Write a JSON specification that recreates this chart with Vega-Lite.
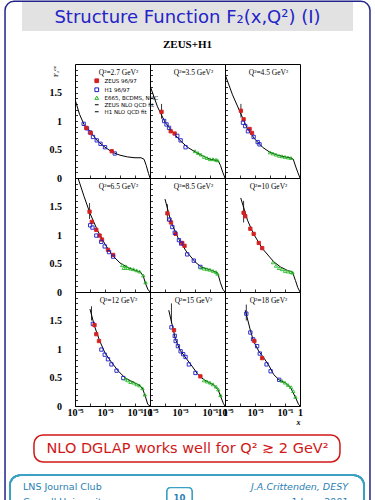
{
  "$schema": "https://vega.github.io/schema/vega-lite/v6.json",
  "background": "white",
  "padding": {"left": 4, "top": 0, "right": 0, "bottom": 0},
  "spacing": 0,
  "columns": 3,
  "bounds": "flush",
  "config": {
    "font": "Liberation Serif",
    "view": {"stroke": "black", "strokeWidth": 1},
    "axis": {"grid": false, "domain": false, "labelFont": "Liberation Serif", "labelColor": "black", "labelFontSize": 10, "labelFontWeight": "bold"},
    "title": {"font": "Liberation Serif", "fontSize": 7.5, "fontWeight": "normal", "color": "black", "anchor": "middle", "offset": -12, "dx": 6}
  },
  "datasets": {
    "d": [
      {"q": 2.7, "s": "fit", "x": 1e-5, "F2": 1.38},
      {"q": 2.7, "s": "fit", "x": 1.995e-5, "F2": 1.12},
      {"q": 2.7, "s": "fit", "x": 3.98e-5, "F2": 0.94},
      {"q": 2.7, "s": "fit", "x": 1e-4, "F2": 0.82},
      {"q": 2.7, "s": "fit", "x": 3.16e-4, "F2": 0.65},
      {"q": 2.7, "s": "fit", "x": 1e-3, "F2": 0.54},
      {"q": 2.7, "s": "fit", "x": 3.16e-3, "F2": 0.45},
      {"q": 2.7, "s": "fit", "x": 0.01, "F2": 0.40},
      {"q": 2.7, "s": "fit", "x": 0.0316, "F2": 0.37},
      {"q": 2.7, "s": "fit", "x": 0.1, "F2": 0.355},
      {"q": 2.7, "s": "fit", "x": 0.251, "F2": 0.355},
      {"q": 2.7, "s": "fit", "x": 0.398, "F2": 0.33},
      {"q": 2.7, "s": "fit", "x": 0.562, "F2": 0.22},
      {"q": 2.7, "s": "fit", "x": 0.794, "F2": 0.08},
      {"q": 2.7, "s": "fit", "x": 1, "F2": 0},

      {"q": 3.5, "s": "fit", "x": 1e-5, "F2": 1.62},
      {"q": 3.5, "s": "fit", "x": 3.162e-5, "F2": 1.25},
      {"q": 3.5, "s": "fit", "x": 1e-4, "F2": 0.98},
      {"q": 3.5, "s": "fit", "x": 3.16e-4, "F2": 0.81},
      {"q": 3.5, "s": "fit", "x": 1e-3, "F2": 0.66},
      {"q": 3.5, "s": "fit", "x": 3.16e-3, "F2": 0.54},
      {"q": 3.5, "s": "fit", "x": 0.01, "F2": 0.46},
      {"q": 3.5, "s": "fit", "x": 0.0316, "F2": 0.39},
      {"q": 3.5, "s": "fit", "x": 0.1, "F2": 0.33},
      {"q": 3.5, "s": "fit", "x": 0.251, "F2": 0.31},
      {"q": 3.5, "s": "fit", "x": 0.355, "F2": 0.30},
      {"q": 3.5, "s": "fit", "x": 0.501, "F2": 0.22},
      {"q": 3.5, "s": "fit", "x": 0.708, "F2": 0.10},
      {"q": 3.5, "s": "fit", "x": 1, "F2": 0},

      {"q": 4.5, "s": "fit", "x": 1e-5, "F2": 1.82},
      {"q": 4.5, "s": "fit", "x": 3.162e-5, "F2": 1.46},
      {"q": 4.5, "s": "fit", "x": 1e-4, "F2": 1.16},
      {"q": 4.5, "s": "fit", "x": 3.16e-4, "F2": 0.86},
      {"q": 4.5, "s": "fit", "x": 1e-3, "F2": 0.68},
      {"q": 4.5, "s": "fit", "x": 3.16e-3, "F2": 0.54},
      {"q": 4.5, "s": "fit", "x": 0.01, "F2": 0.45},
      {"q": 4.5, "s": "fit", "x": 0.0316, "F2": 0.40},
      {"q": 4.5, "s": "fit", "x": 0.1, "F2": 0.37},
      {"q": 4.5, "s": "fit", "x": 0.251, "F2": 0.35},
      {"q": 4.5, "s": "fit", "x": 0.355, "F2": 0.33},
      {"q": 4.5, "s": "fit", "x": 0.501, "F2": 0.21},
      {"q": 4.5, "s": "fit", "x": 0.708, "F2": 0.10},
      {"q": 4.5, "s": "fit", "x": 1, "F2": 0},

      {"q": 6.5, "s": "fit", "x": 1.585e-5, "F2": 2.0},
      {"q": 6.5, "s": "fit", "x": 3.98e-5, "F2": 1.68},
      {"q": 6.5, "s": "fit", "x": 1e-4, "F2": 1.38},
      {"q": 6.5, "s": "fit", "x": 3.16e-4, "F2": 1.08},
      {"q": 6.5, "s": "fit", "x": 1e-3, "F2": 0.84},
      {"q": 6.5, "s": "fit", "x": 3.16e-3, "F2": 0.64},
      {"q": 6.5, "s": "fit", "x": 0.01, "F2": 0.51},
      {"q": 6.5, "s": "fit", "x": 0.0316, "F2": 0.43},
      {"q": 6.5, "s": "fit", "x": 0.1, "F2": 0.38},
      {"q": 6.5, "s": "fit", "x": 0.224, "F2": 0.35},
      {"q": 6.5, "s": "fit", "x": 0.355, "F2": 0.28},
      {"q": 6.5, "s": "fit", "x": 0.501, "F2": 0.15},
      {"q": 6.5, "s": "fit", "x": 0.708, "F2": 0.05},
      {"q": 6.5, "s": "fit", "x": 1, "F2": 0},

      {"q": 8.5, "s": "fit", "x": 1e-4, "F2": 1.63},
      {"q": 8.5, "s": "fit", "x": 2.51e-4, "F2": 1.23},
      {"q": 8.5, "s": "fit", "x": 7.08e-4, "F2": 0.96},
      {"q": 8.5, "s": "fit", "x": 2.51e-3, "F2": 0.72},
      {"q": 8.5, "s": "fit", "x": 0.01, "F2": 0.53},
      {"q": 8.5, "s": "fit", "x": 0.0251, "F2": 0.44},
      {"q": 8.5, "s": "fit", "x": 0.1, "F2": 0.39},
      {"q": 8.5, "s": "fit", "x": 0.251, "F2": 0.35},
      {"q": 8.5, "s": "fit", "x": 0.355, "F2": 0.30},
      {"q": 8.5, "s": "fit", "x": 0.501, "F2": 0.16},
      {"q": 8.5, "s": "fit", "x": 0.708, "F2": 0.05},
      {"q": 8.5, "s": "fit", "x": 1, "F2": 0},

      {"q": 10, "s": "fit", "x": 1.12e-4, "F2": 1.65},
      {"q": 10, "s": "fit", "x": 3.16e-4, "F2": 1.26},
      {"q": 10, "s": "fit", "x": 7.94e-4, "F2": 1.02},
      {"q": 10, "s": "fit", "x": 3.16e-3, "F2": 0.76},
      {"q": 10, "s": "fit", "x": 0.0178, "F2": 0.53},
      {"q": 10, "s": "fit", "x": 0.0501, "F2": 0.44},
      {"q": 10, "s": "fit", "x": 0.141, "F2": 0.38},
      {"q": 10, "s": "fit", "x": 0.316, "F2": 0.35},
      {"q": 10, "s": "fit", "x": 0.501, "F2": 0.20},
      {"q": 10, "s": "fit", "x": 0.708, "F2": 0.08},
      {"q": 10, "s": "fit", "x": 1, "F2": 0},

      {"q": 12, "s": "fit", "x": 1e-4, "F2": 1.70},
      {"q": 12, "s": "fit", "x": 2e-4, "F2": 1.40},
      {"q": 12, "s": "fit", "x": 4.47e-4, "F2": 1.14},
      {"q": 12, "s": "fit", "x": 1e-3, "F2": 0.93},
      {"q": 12, "s": "fit", "x": 2.82e-3, "F2": 0.76},
      {"q": 12, "s": "fit", "x": 7.94e-3, "F2": 0.61},
      {"q": 12, "s": "fit", "x": 0.0224, "F2": 0.49},
      {"q": 12, "s": "fit", "x": 0.0631, "F2": 0.43},
      {"q": 12, "s": "fit", "x": 0.178, "F2": 0.37},
      {"q": 12, "s": "fit", "x": 0.316, "F2": 0.31},
      {"q": 12, "s": "fit", "x": 0.501, "F2": 0.16},
      {"q": 12, "s": "fit", "x": 0.708, "F2": 0.03},
      {"q": 12, "s": "fit", "x": 1, "F2": 0},

      {"q": 15, "s": "fit", "x": 1.78e-4, "F2": 1.68},
      {"q": 15, "s": "fit", "x": 3.16e-4, "F2": 1.40},
      {"q": 15, "s": "fit", "x": 5.01e-4, "F2": 1.17},
      {"q": 15, "s": "fit", "x": 1e-3, "F2": 0.98},
      {"q": 15, "s": "fit", "x": 2.51e-3, "F2": 0.84},
      {"q": 15, "s": "fit", "x": 6.31e-3, "F2": 0.70},
      {"q": 15, "s": "fit", "x": 0.0141, "F2": 0.57},
      {"q": 15, "s": "fit", "x": 0.0282, "F2": 0.49},
      {"q": 15, "s": "fit", "x": 0.0631, "F2": 0.43},
      {"q": 15, "s": "fit", "x": 0.178, "F2": 0.37},
      {"q": 15, "s": "fit", "x": 0.355, "F2": 0.28},
      {"q": 15, "s": "fit", "x": 0.562, "F2": 0.14},
      {"q": 15, "s": "fit", "x": 0.794, "F2": 0.04},
      {"q": 15, "s": "fit", "x": 1, "F2": 0},

      {"q": 18, "s": "fit", "x": 2.24e-4, "F2": 1.68},
      {"q": 18, "s": "fit", "x": 5.01e-4, "F2": 1.32},
      {"q": 18, "s": "fit", "x": 7.94e-4, "F2": 1.14},
      {"q": 18, "s": "fit", "x": 1.78e-3, "F2": 0.96},
      {"q": 18, "s": "fit", "x": 3.98e-3, "F2": 0.84},
      {"q": 18, "s": "fit", "x": 8.91e-3, "F2": 0.70},
      {"q": 18, "s": "fit", "x": 0.0178, "F2": 0.55},
      {"q": 18, "s": "fit", "x": 0.0398, "F2": 0.46},
      {"q": 18, "s": "fit", "x": 0.112, "F2": 0.40},
      {"q": 18, "s": "fit", "x": 0.251, "F2": 0.31},
      {"q": 18, "s": "fit", "x": 0.501, "F2": 0.15},
      {"q": 18, "s": "fit", "x": 0.794, "F2": 0.03},
      {"q": 18, "s": "fit", "x": 1, "F2": 0},

      {"q": 2.7, "s": "H", "x": 3.80e-5, "F2": 0.95},
      {"q": 2.7, "s": "H", "x": 6.31e-5, "F2": 0.87},
      {"q": 2.7, "s": "H", "x": 1e-4, "F2": 0.80},
      {"q": 2.7, "s": "H", "x": 1.58e-4, "F2": 0.72},
      {"q": 2.7, "s": "H", "x": 2.82e-4, "F2": 0.66},
      {"q": 2.7, "s": "H", "x": 5.01e-4, "F2": 0.60},
      {"q": 2.7, "s": "H", "x": 1e-3, "F2": 0.54},
      {"q": 2.7, "s": "H", "x": 4.47e-3, "F2": 0.43},
      {"q": 2.7, "s": "Z", "x": 5.62e-5, "F2": 0.88},
      {"q": 2.7, "s": "Z", "x": 1.12e-4, "F2": 0.79},
      {"q": 2.7, "s": "Z", "x": 2.82e-3, "F2": 0.47},

      {"q": 3.5, "s": "Z", "x": 5.89e-5, "F2": 1.16},
      {"q": 3.5, "s": "Z", "x": 2.40e-4, "F2": 0.82},
      {"q": 3.5, "s": "Z", "x": 4.37e-4, "F2": 0.78},
      {"q": 3.5, "s": "H", "x": 8.71e-5, "F2": 1.0},
      {"q": 3.5, "s": "H", "x": 1.26e-4, "F2": 0.94},
      {"q": 3.5, "s": "H", "x": 1.86e-4, "F2": 0.88},
      {"q": 3.5, "s": "H", "x": 6.61e-4, "F2": 0.74},
      {"q": 3.5, "s": "H", "x": 1.10e-3, "F2": 0.66},
      {"q": 3.5, "s": "H", "x": 2.34e-3, "F2": 0.54},

      {"q": 4.5, "s": "Z", "x": 1.15e-4, "F2": 1.18},
      {"q": 4.5, "s": "Z", "x": 1.74e-4, "F2": 1.03},
      {"q": 4.5, "s": "Z", "x": 4.37e-4, "F2": 0.86},
      {"q": 4.5, "s": "Z", "x": 6.31e-4, "F2": 0.79},
      {"q": 4.5, "s": "H", "x": 1.58e-4, "F2": 0.97},
      {"q": 4.5, "s": "H", "x": 2.24e-4, "F2": 0.91},
      {"q": 4.5, "s": "H", "x": 3.39e-4, "F2": 0.82},
      {"q": 4.5, "s": "H", "x": 8.13e-4, "F2": 0.72},
      {"q": 4.5, "s": "H", "x": 1.51e-3, "F2": 0.63},
      {"q": 4.5, "s": "H", "x": 2.0e-3, "F2": 0.59},

      {"q": 6.5, "s": "Z", "x": 9.33e-5, "F2": 1.41},
      {"q": 6.5, "s": "Z", "x": 1.32e-4, "F2": 1.23},
      {"q": 6.5, "s": "Z", "x": 2.63e-4, "F2": 1.09},
      {"q": 6.5, "s": "Z", "x": 4.37e-4, "F2": 0.99},
      {"q": 6.5, "s": "Z", "x": 6.31e-4, "F2": 0.92},
      {"q": 6.5, "s": "Z", "x": 1.58e-3, "F2": 0.74},
      {"q": 6.5, "s": "Z", "x": 3.47e-3, "F2": 0.65},
      {"q": 6.5, "s": "H", "x": 1.02e-4, "F2": 1.17},
      {"q": 6.5, "s": "H", "x": 1.45e-4, "F2": 1.13},
      {"q": 6.5, "s": "H", "x": 2.63e-4, "F2": 0.99},
      {"q": 6.5, "s": "H", "x": 5.62e-4, "F2": 0.88},
      {"q": 6.5, "s": "H", "x": 9.55e-4, "F2": 0.80},
      {"q": 6.5, "s": "H", "x": 1.86e-3, "F2": 0.70},
      {"q": 6.5, "s": "H", "x": 3.47e-3, "F2": 0.62},

      {"q": 8.5, "s": "Z", "x": 1.45e-4, "F2": 1.38},
      {"q": 8.5, "s": "Z", "x": 2.51e-4, "F2": 1.22},
      {"q": 8.5, "s": "Z", "x": 5.13e-4, "F2": 1.02},
      {"q": 8.5, "s": "Z", "x": 1.41e-3, "F2": 0.86},
      {"q": 8.5, "s": "Z", "x": 2.0e-3, "F2": 0.81},
      {"q": 8.5, "s": "H", "x": 2.0e-4, "F2": 1.27},
      {"q": 8.5, "s": "H", "x": 3.09e-4, "F2": 1.14},
      {"q": 8.5, "s": "H", "x": 4.47e-4, "F2": 1.04},
      {"q": 8.5, "s": "H", "x": 8.51e-4, "F2": 0.91},
      {"q": 8.5, "s": "H", "x": 1.20e-3, "F2": 0.85},
      {"q": 8.5, "s": "H", "x": 3.02e-3, "F2": 0.66},
      {"q": 8.5, "s": "H", "x": 8.32e-3, "F2": 0.55},
      {"q": 8.5, "s": "H", "x": 0.0229, "F2": 0.44},

      {"q": 10, "s": "Z", "x": 1.74e-4, "F2": 1.39},
      {"q": 10, "s": "Z", "x": 2.24e-4, "F2": 1.33},
      {"q": 10, "s": "Z", "x": 4.90e-4, "F2": 1.11},
      {"q": 10, "s": "Z", "x": 8.13e-4, "F2": 1.02},
      {"q": 10, "s": "Z", "x": 1.78e-3, "F2": 0.86},
      {"q": 10, "s": "Z", "x": 3.02e-3, "F2": 0.77},

      {"q": 12, "s": "H", "x": 1.55e-4, "F2": 1.44},
      {"q": 12, "s": "H", "x": 5.75e-4, "F2": 0.99},
      {"q": 12, "s": "H", "x": 9.55e-4, "F2": 0.90},
      {"q": 12, "s": "H", "x": 1.58e-3, "F2": 0.82},
      {"q": 12, "s": "H", "x": 2.69e-3, "F2": 0.73},
      {"q": 12, "s": "H", "x": 5.89e-3, "F2": 0.62},
      {"q": 12, "s": "H", "x": 0.0166, "F2": 0.49},
      {"q": 12, "s": "Z", "x": 2.0e-4, "F2": 1.42},
      {"q": 12, "s": "Z", "x": 2.63e-4, "F2": 1.26},
      {"q": 12, "s": "Z", "x": 3.98e-4, "F2": 1.14},

      {"q": 15, "s": "H", "x": 2.69e-4, "F2": 1.38},
      {"q": 15, "s": "H", "x": 4.47e-4, "F2": 1.23},
      {"q": 15, "s": "H", "x": 5.13e-4, "F2": 1.14},
      {"q": 15, "s": "H", "x": 7.24e-4, "F2": 1.05},
      {"q": 15, "s": "H", "x": 1.10e-3, "F2": 0.96},
      {"q": 15, "s": "H", "x": 1.62e-3, "F2": 0.91},
      {"q": 15, "s": "H", "x": 2.34e-3, "F2": 0.86},
      {"q": 15, "s": "H", "x": 3.89e-3, "F2": 0.73},
      {"q": 15, "s": "H", "x": 0.0107, "F2": 0.58},
      {"q": 15, "s": "Z", "x": 3.98e-4, "F2": 1.33},
      {"q": 15, "s": "Z", "x": 0.0229, "F2": 0.52},

      {"q": 18, "s": "H", "x": 2.63e-4, "F2": 1.62},
      {"q": 18, "s": "H", "x": 4.90e-4, "F2": 1.29},
      {"q": 18, "s": "H", "x": 7.41e-4, "F2": 1.17},
      {"q": 18, "s": "H", "x": 1.38e-3, "F2": 1.05},
      {"q": 18, "s": "H", "x": 2.09e-3, "F2": 0.92},
      {"q": 18, "s": "H", "x": 5.89e-3, "F2": 0.73},
      {"q": 18, "s": "H", "x": 0.011, "F2": 0.61},
      {"q": 18, "s": "H", "x": 0.0407, "F2": 0.46},
      {"q": 18, "s": "Z", "x": 9.12e-4, "F2": 1.14},
      {"q": 18, "s": "Z", "x": 3.02e-3, "F2": 0.84},

      {"q": 3.5, "s": "F", "x": 0.01, "F2": 0.47},
      {"q": 3.5, "s": "F", "x": 0.0158, "F2": 0.44},
      {"q": 3.5, "s": "F", "x": 0.0251, "F2": 0.41},
      {"q": 3.5, "s": "F", "x": 0.0398, "F2": 0.37},
      {"q": 3.5, "s": "F", "x": 0.0631, "F2": 0.35},
      {"q": 3.5, "s": "F", "x": 0.1, "F2": 0.33},
      {"q": 3.5, "s": "F", "x": 0.158, "F2": 0.33},
      {"q": 3.5, "s": "F", "x": 0.251, "F2": 0.32},
      {"q": 3.5, "s": "F", "x": 0.316, "F2": 0.31},
      {"q": 4.5, "s": "F", "x": 0.01, "F2": 0.45},
      {"q": 4.5, "s": "F", "x": 0.0158, "F2": 0.43},
      {"q": 4.5, "s": "F", "x": 0.0251, "F2": 0.41},
      {"q": 4.5, "s": "F", "x": 0.0398, "F2": 0.39},
      {"q": 4.5, "s": "F", "x": 0.0631, "F2": 0.38},
      {"q": 4.5, "s": "F", "x": 0.1, "F2": 0.37},
      {"q": 4.5, "s": "F", "x": 0.158, "F2": 0.36},
      {"q": 4.5, "s": "F", "x": 0.251, "F2": 0.35},
      {"q": 6.5, "s": "F", "x": 0.0141, "F2": 0.47},
      {"q": 6.5, "s": "F", "x": 0.0178, "F2": 0.42},
      {"q": 6.5, "s": "F", "x": 0.0251, "F2": 0.45},
      {"q": 6.5, "s": "F", "x": 0.0316, "F2": 0.42},
      {"q": 6.5, "s": "F", "x": 0.0501, "F2": 0.41},
      {"q": 6.5, "s": "F", "x": 0.0794, "F2": 0.40},
      {"q": 6.5, "s": "F", "x": 0.126, "F2": 0.38},
      {"q": 6.5, "s": "F", "x": 0.2, "F2": 0.36},
      {"q": 6.5, "s": "F", "x": 0.355, "F2": 0.29},
      {"q": 6.5, "s": "F", "x": 0.501, "F2": 0.17},
      {"q": 8.5, "s": "F", "x": 0.0251, "F2": 0.43},
      {"q": 8.5, "s": "F", "x": 0.0398, "F2": 0.41},
      {"q": 8.5, "s": "F", "x": 0.0631, "F2": 0.40},
      {"q": 8.5, "s": "F", "x": 0.1, "F2": 0.39},
      {"q": 8.5, "s": "F", "x": 0.158, "F2": 0.37},
      {"q": 8.5, "s": "F", "x": 0.251, "F2": 0.35},
      {"q": 8.5, "s": "F", "x": 0.316, "F2": 0.32},
      {"q": 10, "s": "F", "x": 0.0158, "F2": 0.52},
      {"q": 10, "s": "F", "x": 0.0251, "F2": 0.46},
      {"q": 10, "s": "F", "x": 0.0398, "F2": 0.42},
      {"q": 10, "s": "F", "x": 0.0631, "F2": 0.40},
      {"q": 10, "s": "F", "x": 0.1, "F2": 0.37},
      {"q": 10, "s": "F", "x": 0.158, "F2": 0.36},
      {"q": 10, "s": "F", "x": 0.251, "F2": 0.35},
      {"q": 10, "s": "F", "x": 0.316, "F2": 0.34},
      {"q": 12, "s": "F", "x": 0.0224, "F2": 0.48},
      {"q": 12, "s": "F", "x": 0.0316, "F2": 0.45},
      {"q": 12, "s": "F", "x": 0.0501, "F2": 0.42},
      {"q": 12, "s": "F", "x": 0.0794, "F2": 0.41},
      {"q": 12, "s": "F", "x": 0.126, "F2": 0.38},
      {"q": 12, "s": "F", "x": 0.2, "F2": 0.36},
      {"q": 12, "s": "F", "x": 0.316, "F2": 0.31},
      {"q": 12, "s": "F", "x": 0.447, "F2": 0.20},
      {"q": 15, "s": "F", "x": 0.0398, "F2": 0.45},
      {"q": 15, "s": "F", "x": 0.0631, "F2": 0.43},
      {"q": 15, "s": "F", "x": 0.1, "F2": 0.41},
      {"q": 15, "s": "F", "x": 0.158, "F2": 0.38},
      {"q": 15, "s": "F", "x": 0.251, "F2": 0.34},
      {"q": 15, "s": "F", "x": 0.355, "F2": 0.29},
      {"q": 15, "s": "F", "x": 0.501, "F2": 0.19},
      {"q": 18, "s": "F", "x": 0.0631, "F2": 0.44},
      {"q": 18, "s": "F", "x": 0.1, "F2": 0.41},
      {"q": 18, "s": "F", "x": 0.158, "F2": 0.37},
      {"q": 18, "s": "F", "x": 0.251, "F2": 0.33},
      {"q": 18, "s": "F", "x": 0.355, "F2": 0.26},
      {"q": 18, "s": "F", "x": 0.501, "F2": 0.16},

      {"q": 3.5, "s": "err", "x": 5.89e-5, "lo": 1.04, "hi": 1.30},
      {"q": 4.5, "s": "err", "x": 1.15e-4, "lo": 1.06, "hi": 1.30},
      {"q": 6.5, "s": "err", "x": 9.33e-5, "lo": 1.28, "hi": 1.56},
      {"q": 8.5, "s": "err", "x": 1.45e-4, "lo": 1.24, "hi": 1.54},
      {"q": 10, "s": "err", "x": 1.74e-4, "lo": 1.22, "hi": 1.60},
      {"q": 12, "s": "err", "x": 1.26e-4, "lo": 1.50, "hi": 1.75},
      {"q": 15, "s": "err", "x": 2.69e-4, "lo": 1.45, "hi": 1.80},
      {"q": 18, "s": "err", "x": 2.63e-4, "lo": 1.50, "hi": 1.78}
    ]
  },
  "concat": [
    {"width": 75, "height": 1, "view": {"stroke": null}, "data": {"values": []}, "mark": "point"},
    {
      "width": 75, "height": 30,
      "view": {"stroke": null},
      "data": {"values": [{"t": "Structure Function F₂(x,Q²) (I)"}]},
      "encoding": {
        "x": {"datum": 0, "type": "quantitative", "scale": {"domain": [0, 1]}, "axis": null},
        "y": {"datum": 0, "type": "quantitative", "scale": {"domain": [0, 1]}, "axis": null}
      },
      "layer": [
        {
          "mark": {"type": "rect", "fill": "#e2e2e2", "stroke": null},
          "encoding": {"x": {"datum": -1.707, "type": "quantitative"}, "x2": {"datum": 2.707}, "y": {"datum": 0.967, "type": "quantitative"}, "y2": {"datum": 0}}
        },
        {
          "mark": {"type": "rect", "fill": null, "stroke": "#23238c", "strokeWidth": 1.5, "cornerRadius": 9},
          "encoding": {"x": {"datum": -1.933, "type": "quantitative"}, "x2": {"datum": 2.933}, "y": {"datum": 0.99, "type": "quantitative"}, "y2": {"datum": -17}}
        },
        {
          "mark": {"type": "text", "font": "DejaVu Sans", "fontSize": 18, "color": "#2424c8"},
          "encoding": {"x": {"datum": 0.5, "type": "quantitative"}, "y": {"datum": 0.45, "type": "quantitative"}, "text": {"field": "t"}}
        }
      ]
    },
    {"width": 75, "height": 1, "view": {"stroke": null}, "data": {"values": []}, "mark": "point"},

    {"width": 75, "height": 1, "view": {"stroke": null}, "data": {"values": []}, "mark": "point"},
    {
      "width": 75, "height": 33,
      "view": {"stroke": null},
      "data": {"values": [{"t": "ZEUS+H1"}]},
      "mark": {"type": "text", "font": "Liberation Serif", "fontSize": 11, "fontWeight": "bold", "color": "black", "dy": -2.5},
      "encoding": {"text": {"field": "t"}}
    },
    {"width": 75, "height": 1, "view": {"stroke": null}, "data": {"values": []}, "mark": "point"},

    {
      "width": 75, "height": 114,
      "title": "Q²=2.7 GeV²",
      "data": {"name": "d"},
      "transform": [{"filter": "datum.q == 2.7"}],
      "encoding": {
        "x": {"field": "x", "type": "quantitative", "title": null, "scale": {"type": "log", "domain": [1e-5, 1], "nice": false},
          "axis": {"values": [0.00001, 0.0001, 0.001, 0.01, 0.1, 1], "labels": false, "ticks": true, "tickSize": -3, "tickColor": "black", "tickWidth": 0.8}},
        "y": {"field": "F2", "type": "quantitative", "title": "F₂ᵉᵐ", "scale": {"domain": [0, 2], "nice": false},
          "axis": {"values": [0, 0.1, 0.2, 0.3, 0.4, 0.5, 0.6, 0.7, 0.8, 0.9, 1, 1.1, 1.2, 1.3, 1.4, 1.5, 1.6, 1.7, 1.8, 1.9], "labelExpr": "datum.value == 0 ? '0' : datum.value == 0.5 ? '0.5' : datum.value == 1 ? '1' : datum.value == 1.5 ? '1.5' : ''", "labelOverlap": false, "labelPadding": 16, "ticks": true, "tickSize": -2.5, "tickColor": "black", "tickWidth": 0.8,
            "title": "F₂ᵉᵐ", "titleFont": "Liberation Serif", "titleFontSize": 7, "titleFontWeight": "normal", "titleAngle": 270, "titleAlign": "right", "titleBaseline": "middle", "titleX": -20, "titleY": 1}}
      },
      "layer": [
        {"transform": [{"filter": "datum.s == 'fit'"}], "mark": {"type": "line", "strokeWidth": 1, "clip": true},
          "encoding": {"stroke": {"field": "s", "type": "nominal", "scale": {"domain": ["Z", "H", "F", "fit", "H1fit"], "range": ["#d42020", "#1c1cc8", "#22bb22", "black", "black"]},
            "legend": {"orient": "none", "legendX": 19, "legendY": 77, "title": null, "symbolSize": 14, "labelFontSize": 5.5, "labelFont": "DejaVu Sans", "rowPadding": 0, "padding": 0, "labelOffset": 5, "symbolStrokeWidth": 1, "labelExpr": "datum.label == 'Z' ? 'ZEUS 96/97' : datum.label == 'H' ? 'H1 96/97' : datum.label == 'F' ? 'E665, BCDMS, NMC' : datum.label == 'fit' ? 'ZEUS NLO QCD fit' : 'H1 NLO QCD fit'"}}}},
        {"transform": [{"filter": "datum.s == 'Z' || datum.s == 'H' || datum.s == 'F'"}], "mark": {"type": "point", "size": 11, "strokeWidth": 0.9, "opacity": 1},
          "encoding": {
            "stroke": {"field": "s", "type": "nominal", "scale": {"domain": ["Z", "H", "F", "fit", "H1fit"], "range": ["#d42020", "#1c1cc8", "#22bb22", "black", "black"]},
              "legend": {"orient": "none", "legendX": 19, "legendY": 77, "title": null, "symbolSize": 14, "labelFontSize": 5.5, "labelFont": "DejaVu Sans", "rowPadding": 0, "padding": 0, "labelOffset": 5, "symbolStrokeWidth": 1, "labelExpr": "datum.label == 'Z' ? 'ZEUS 96/97' : datum.label == 'H' ? 'H1 96/97' : datum.label == 'F' ? 'E665, BCDMS, NMC' : datum.label == 'fit' ? 'ZEUS NLO QCD fit' : 'H1 NLO QCD fit'"}},
            "fill": {"field": "s", "type": "nominal", "scale": {"domain": ["Z", "H", "F", "fit", "H1fit"], "range": ["#d42020", "transparent", "transparent", "transparent", "transparent"]},
              "legend": {"orient": "none", "legendX": 19, "legendY": 77, "title": null, "symbolSize": 14, "labelFontSize": 5.5, "labelFont": "DejaVu Sans", "rowPadding": 0, "padding": 0, "labelOffset": 5, "symbolStrokeWidth": 1, "labelExpr": "datum.label == 'Z' ? 'ZEUS 96/97' : datum.label == 'H' ? 'H1 96/97' : datum.label == 'F' ? 'E665, BCDMS, NMC' : datum.label == 'fit' ? 'ZEUS NLO QCD fit' : 'H1 NLO QCD fit'"}},
            "shape": {"field": "s", "type": "nominal", "scale": {"domain": ["Z", "H", "F", "fit", "H1fit"], "range": ["square", "square", "triangle-up", "stroke", "stroke"]},
              "legend": {"orient": "none", "legendX": 19, "legendY": 77, "title": null, "symbolSize": 14, "labelFontSize": 5.5, "labelFont": "DejaVu Sans", "rowPadding": 0, "padding": 0, "labelOffset": 5, "symbolStrokeWidth": 1, "labelExpr": "datum.label == 'Z' ? 'ZEUS 96/97' : datum.label == 'H' ? 'H1 96/97' : datum.label == 'F' ? 'E665, BCDMS, NMC' : datum.label == 'fit' ? 'ZEUS NLO QCD fit' : 'H1 NLO QCD fit'"}}
          }}
      ]
    },
    {
      "width": 75, "height": 114,
      "title": "Q²=3.5 GeV²",
      "data": {"name": "d"},
      "transform": [{"filter": "datum.q == 3.5"}],
      "encoding": {
        "x": {"field": "x", "type": "quantitative", "title": null, "scale": {"type": "log", "domain": [1e-5, 1], "nice": false},
          "axis": {"values": [0.00001, 0.0001, 0.001, 0.01, 0.1, 1], "labels": false, "ticks": true, "tickSize": -3, "tickColor": "black", "tickWidth": 0.8}},
        "y": {"field": "F2", "type": "quantitative", "title": null, "scale": {"domain": [0, 2], "nice": false},
          "axis": {"values": [0, 0.1, 0.2, 0.3, 0.4, 0.5, 0.6, 0.7, 0.8, 0.9, 1, 1.1, 1.2, 1.3, 1.4, 1.5, 1.6, 1.7, 1.8, 1.9], "labels": false, "ticks": true, "tickSize": -2.5, "tickColor": "black", "tickWidth": 0.8}}
      },
      "layer": [
        {"transform": [{"filter": "datum.s == 'fit'"}], "mark": {"type": "line", "strokeWidth": 1, "clip": true},
          "encoding": {"stroke": {"field": "s", "type": "nominal", "scale": {"domain": ["Z", "H", "F", "fit", "H1fit"], "range": ["#d42020", "#1c1cc8", "#22bb22", "black", "black"]}}}},
        {"transform": [{"filter": "datum.s == 'err'"}], "mark": {"type": "rule", "strokeWidth": 0.8, "color": "black", "clip": true},
          "encoding": {"y": {"field": "lo", "type": "quantitative", "title": null}, "y2": {"field": "hi"}}},
        {"transform": [{"filter": "datum.s == 'Z' || datum.s == 'H' || datum.s == 'F'"}], "mark": {"type": "point", "size": 11, "strokeWidth": 0.9, "opacity": 1},
          "encoding": {
            "stroke": {"field": "s", "type": "nominal", "scale": {"domain": ["Z", "H", "F", "fit", "H1fit"], "range": ["#d42020", "#1c1cc8", "#22bb22", "black", "black"]}},
            "fill": {"field": "s", "type": "nominal", "scale": {"domain": ["Z", "H", "F", "fit", "H1fit"], "range": ["#d42020", "transparent", "transparent", "transparent", "transparent"]}},
            "shape": {"field": "s", "type": "nominal", "scale": {"domain": ["Z", "H", "F", "fit", "H1fit"], "range": ["square", "square", "triangle-up", "stroke", "stroke"]}}
          }}
      ]
    },
    {
      "width": 75, "height": 114,
      "title": "Q²=4.5 GeV²",
      "data": {"name": "d"},
      "transform": [{"filter": "datum.q == 4.5"}],
      "encoding": {
        "x": {"field": "x", "type": "quantitative", "title": null, "scale": {"type": "log", "domain": [1e-5, 1], "nice": false},
          "axis": {"values": [0.00001, 0.0001, 0.001, 0.01, 0.1, 1], "labels": false, "ticks": true, "tickSize": -3, "tickColor": "black", "tickWidth": 0.8}},
        "y": {"field": "F2", "type": "quantitative", "title": null, "scale": {"domain": [0, 2], "nice": false},
          "axis": {"values": [0, 0.1, 0.2, 0.3, 0.4, 0.5, 0.6, 0.7, 0.8, 0.9, 1, 1.1, 1.2, 1.3, 1.4, 1.5, 1.6, 1.7, 1.8, 1.9], "labels": false, "ticks": true, "tickSize": -2.5, "tickColor": "black", "tickWidth": 0.8}}
      },
      "layer": [
        {"transform": [{"filter": "datum.s == 'fit'"}], "mark": {"type": "line", "strokeWidth": 1, "clip": true},
          "encoding": {"stroke": {"field": "s", "type": "nominal", "scale": {"domain": ["Z", "H", "F", "fit", "H1fit"], "range": ["#d42020", "#1c1cc8", "#22bb22", "black", "black"]}}}},
        {"transform": [{"filter": "datum.s == 'err'"}], "mark": {"type": "rule", "strokeWidth": 0.8, "color": "black", "clip": true},
          "encoding": {"y": {"field": "lo", "type": "quantitative", "title": null}, "y2": {"field": "hi"}}},
        {"transform": [{"filter": "datum.s == 'Z' || datum.s == 'H' || datum.s == 'F'"}], "mark": {"type": "point", "size": 11, "strokeWidth": 0.9, "opacity": 1},
          "encoding": {
            "stroke": {"field": "s", "type": "nominal", "scale": {"domain": ["Z", "H", "F", "fit", "H1fit"], "range": ["#d42020", "#1c1cc8", "#22bb22", "black", "black"]}},
            "fill": {"field": "s", "type": "nominal", "scale": {"domain": ["Z", "H", "F", "fit", "H1fit"], "range": ["#d42020", "transparent", "transparent", "transparent", "transparent"]}},
            "shape": {"field": "s", "type": "nominal", "scale": {"domain": ["Z", "H", "F", "fit", "H1fit"], "range": ["square", "square", "triangle-up", "stroke", "stroke"]}}
          }}
      ]
    },

    {
      "width": 75, "height": 114,
      "title": "Q²=6.5 GeV²",
      "data": {"name": "d"},
      "transform": [{"filter": "datum.q == 6.5"}],
      "encoding": {
        "x": {"field": "x", "type": "quantitative", "title": null, "scale": {"type": "log", "domain": [1e-5, 1], "nice": false},
          "axis": {"values": [0.00001, 0.0001, 0.001, 0.01, 0.1, 1], "labels": false, "ticks": true, "tickSize": -3, "tickColor": "black", "tickWidth": 0.8}},
        "y": {"field": "F2", "type": "quantitative", "title": null, "scale": {"domain": [0, 2], "nice": false},
          "axis": {"values": [0, 0.1, 0.2, 0.3, 0.4, 0.5, 0.6, 0.7, 0.8, 0.9, 1, 1.1, 1.2, 1.3, 1.4, 1.5, 1.6, 1.7, 1.8, 1.9], "labelExpr": "datum.value == 0 ? '0' : datum.value == 0.5 ? '0.5' : datum.value == 1 ? '1' : datum.value == 1.5 ? '1.5' : ''", "labelOverlap": false, "labelPadding": 16, "ticks": true, "tickSize": -2.5, "tickColor": "black", "tickWidth": 0.8}}
      },
      "layer": [
        {"transform": [{"filter": "datum.s == 'fit'"}], "mark": {"type": "line", "strokeWidth": 1, "clip": true},
          "encoding": {"stroke": {"field": "s", "type": "nominal", "scale": {"domain": ["Z", "H", "F", "fit", "H1fit"], "range": ["#d42020", "#1c1cc8", "#22bb22", "black", "black"]}}}},
        {"transform": [{"filter": "datum.s == 'err'"}], "mark": {"type": "rule", "strokeWidth": 0.8, "color": "black", "clip": true},
          "encoding": {"y": {"field": "lo", "type": "quantitative", "title": null}, "y2": {"field": "hi"}}},
        {"transform": [{"filter": "datum.s == 'Z' || datum.s == 'H' || datum.s == 'F'"}], "mark": {"type": "point", "size": 11, "strokeWidth": 0.9, "opacity": 1},
          "encoding": {
            "stroke": {"field": "s", "type": "nominal", "scale": {"domain": ["Z", "H", "F", "fit", "H1fit"], "range": ["#d42020", "#1c1cc8", "#22bb22", "black", "black"]}},
            "fill": {"field": "s", "type": "nominal", "scale": {"domain": ["Z", "H", "F", "fit", "H1fit"], "range": ["#d42020", "transparent", "transparent", "transparent", "transparent"]}},
            "shape": {"field": "s", "type": "nominal", "scale": {"domain": ["Z", "H", "F", "fit", "H1fit"], "range": ["square", "square", "triangle-up", "stroke", "stroke"]}}
          }}
      ]
    },
    {
      "width": 75, "height": 114,
      "title": "Q²=8.5 GeV²",
      "data": {"name": "d"},
      "transform": [{"filter": "datum.q == 8.5"}],
      "encoding": {
        "x": {"field": "x", "type": "quantitative", "title": null, "scale": {"type": "log", "domain": [1e-5, 1], "nice": false},
          "axis": {"values": [0.00001, 0.0001, 0.001, 0.01, 0.1, 1], "labels": false, "ticks": true, "tickSize": -3, "tickColor": "black", "tickWidth": 0.8}},
        "y": {"field": "F2", "type": "quantitative", "title": null, "scale": {"domain": [0, 2], "nice": false},
          "axis": {"values": [0, 0.1, 0.2, 0.3, 0.4, 0.5, 0.6, 0.7, 0.8, 0.9, 1, 1.1, 1.2, 1.3, 1.4, 1.5, 1.6, 1.7, 1.8, 1.9], "labels": false, "ticks": true, "tickSize": -2.5, "tickColor": "black", "tickWidth": 0.8}}
      },
      "layer": [
        {"transform": [{"filter": "datum.s == 'fit'"}], "mark": {"type": "line", "strokeWidth": 1, "clip": true},
          "encoding": {"stroke": {"field": "s", "type": "nominal", "scale": {"domain": ["Z", "H", "F", "fit", "H1fit"], "range": ["#d42020", "#1c1cc8", "#22bb22", "black", "black"]}}}},
        {"transform": [{"filter": "datum.s == 'err'"}], "mark": {"type": "rule", "strokeWidth": 0.8, "color": "black", "clip": true},
          "encoding": {"y": {"field": "lo", "type": "quantitative", "title": null}, "y2": {"field": "hi"}}},
        {"transform": [{"filter": "datum.s == 'Z' || datum.s == 'H' || datum.s == 'F'"}], "mark": {"type": "point", "size": 11, "strokeWidth": 0.9, "opacity": 1},
          "encoding": {
            "stroke": {"field": "s", "type": "nominal", "scale": {"domain": ["Z", "H", "F", "fit", "H1fit"], "range": ["#d42020", "#1c1cc8", "#22bb22", "black", "black"]}},
            "fill": {"field": "s", "type": "nominal", "scale": {"domain": ["Z", "H", "F", "fit", "H1fit"], "range": ["#d42020", "transparent", "transparent", "transparent", "transparent"]}},
            "shape": {"field": "s", "type": "nominal", "scale": {"domain": ["Z", "H", "F", "fit", "H1fit"], "range": ["square", "square", "triangle-up", "stroke", "stroke"]}}
          }}
      ]
    },
    {
      "width": 75, "height": 114,
      "title": "Q²=10 GeV²",
      "data": {"name": "d"},
      "transform": [{"filter": "datum.q == 10"}],
      "encoding": {
        "x": {"field": "x", "type": "quantitative", "title": null, "scale": {"type": "log", "domain": [1e-5, 1], "nice": false},
          "axis": {"values": [0.00001, 0.0001, 0.001, 0.01, 0.1, 1], "labels": false, "ticks": true, "tickSize": -3, "tickColor": "black", "tickWidth": 0.8}},
        "y": {"field": "F2", "type": "quantitative", "title": null, "scale": {"domain": [0, 2], "nice": false},
          "axis": {"values": [0, 0.1, 0.2, 0.3, 0.4, 0.5, 0.6, 0.7, 0.8, 0.9, 1, 1.1, 1.2, 1.3, 1.4, 1.5, 1.6, 1.7, 1.8, 1.9], "labels": false, "ticks": true, "tickSize": -2.5, "tickColor": "black", "tickWidth": 0.8}}
      },
      "layer": [
        {"transform": [{"filter": "datum.s == 'fit'"}], "mark": {"type": "line", "strokeWidth": 1, "clip": true},
          "encoding": {"stroke": {"field": "s", "type": "nominal", "scale": {"domain": ["Z", "H", "F", "fit", "H1fit"], "range": ["#d42020", "#1c1cc8", "#22bb22", "black", "black"]}}}},
        {"transform": [{"filter": "datum.s == 'err'"}], "mark": {"type": "rule", "strokeWidth": 0.8, "color": "black", "clip": true},
          "encoding": {"y": {"field": "lo", "type": "quantitative", "title": null}, "y2": {"field": "hi"}}},
        {"transform": [{"filter": "datum.s == 'Z' || datum.s == 'H' || datum.s == 'F'"}], "mark": {"type": "point", "size": 11, "strokeWidth": 0.9, "opacity": 1},
          "encoding": {
            "stroke": {"field": "s", "type": "nominal", "scale": {"domain": ["Z", "H", "F", "fit", "H1fit"], "range": ["#d42020", "#1c1cc8", "#22bb22", "black", "black"]}},
            "fill": {"field": "s", "type": "nominal", "scale": {"domain": ["Z", "H", "F", "fit", "H1fit"], "range": ["#d42020", "transparent", "transparent", "transparent", "transparent"]}},
            "shape": {"field": "s", "type": "nominal", "scale": {"domain": ["Z", "H", "F", "fit", "H1fit"], "range": ["square", "square", "triangle-up", "stroke", "stroke"]}}
          }}
      ]
    },

    {
      "width": 75, "height": 114,
      "title": "Q²=12 GeV²",
      "data": {"name": "d"},
      "transform": [{"filter": "datum.q == 12"}],
      "encoding": {
        "x": {"field": "x", "type": "quantitative", "title": null, "scale": {"type": "log", "domain": [1e-5, 1], "nice": false},
          "axis": {"values": [0.00001, 0.0001, 0.001, 0.01, 0.1, 1], "labelExpr": "datum.value > 0.5 ? '1' : datum.value > 0.05 ? '10⁻¹' : datum.value > 0.005 ? '' : datum.value > 0.0005 ? '10⁻³' : datum.value > 0.00005 ? '' : '10⁻⁵'", "labelOverlap": false, "labelBound": false, "labelFlush": false, "labelPadding": 4, "ticks": true, "tickSize": -3, "tickColor": "black", "tickWidth": 0.8}},
        "y": {"field": "F2", "type": "quantitative", "title": null, "scale": {"domain": [0, 2], "nice": false},
          "axis": {"values": [0, 0.1, 0.2, 0.3, 0.4, 0.5, 0.6, 0.7, 0.8, 0.9, 1, 1.1, 1.2, 1.3, 1.4, 1.5, 1.6, 1.7, 1.8, 1.9], "labelExpr": "datum.value == 0 ? '0' : datum.value == 0.5 ? '0.5' : datum.value == 1 ? '1' : datum.value == 1.5 ? '1.5' : ''", "labelOverlap": false, "labelPadding": 16, "ticks": true, "tickSize": -2.5, "tickColor": "black", "tickWidth": 0.8}}
      },
      "layer": [
        {"transform": [{"filter": "datum.s == 'fit'"}], "mark": {"type": "line", "strokeWidth": 1, "clip": true},
          "encoding": {"stroke": {"field": "s", "type": "nominal", "scale": {"domain": ["Z", "H", "F", "fit", "H1fit"], "range": ["#d42020", "#1c1cc8", "#22bb22", "black", "black"]}}}},
        {"transform": [{"filter": "datum.s == 'err'"}], "mark": {"type": "rule", "strokeWidth": 0.8, "color": "black", "clip": true},
          "encoding": {"y": {"field": "lo", "type": "quantitative", "title": null}, "y2": {"field": "hi"}}},
        {"transform": [{"filter": "datum.s == 'Z' || datum.s == 'H' || datum.s == 'F'"}], "mark": {"type": "point", "size": 11, "strokeWidth": 0.9, "opacity": 1},
          "encoding": {
            "stroke": {"field": "s", "type": "nominal", "scale": {"domain": ["Z", "H", "F", "fit", "H1fit"], "range": ["#d42020", "#1c1cc8", "#22bb22", "black", "black"]}},
            "fill": {"field": "s", "type": "nominal", "scale": {"domain": ["Z", "H", "F", "fit", "H1fit"], "range": ["#d42020", "transparent", "transparent", "transparent", "transparent"]}},
            "shape": {"field": "s", "type": "nominal", "scale": {"domain": ["Z", "H", "F", "fit", "H1fit"], "range": ["square", "square", "triangle-up", "stroke", "stroke"]}}
          }}
      ]
    },
    {
      "width": 75, "height": 114,
      "title": "Q²=15 GeV²",
      "data": {"name": "d"},
      "transform": [{"filter": "datum.q == 15"}],
      "encoding": {
        "x": {"field": "x", "type": "quantitative", "title": null, "scale": {"type": "log", "domain": [1e-5, 1], "nice": false},
          "axis": {"values": [0.00001, 0.0001, 0.001, 0.01, 0.1, 1], "labelExpr": "datum.value > 0.5 ? '1' : datum.value > 0.05 ? '10⁻¹' : datum.value > 0.005 ? '' : datum.value > 0.0005 ? '10⁻³' : datum.value > 0.00005 ? '' : '10⁻⁵'", "labelOverlap": false, "labelBound": false, "labelFlush": false, "labelPadding": 4, "ticks": true, "tickSize": -3, "tickColor": "black", "tickWidth": 0.8}},
        "y": {"field": "F2", "type": "quantitative", "title": null, "scale": {"domain": [0, 2], "nice": false},
          "axis": {"values": [0, 0.1, 0.2, 0.3, 0.4, 0.5, 0.6, 0.7, 0.8, 0.9, 1, 1.1, 1.2, 1.3, 1.4, 1.5, 1.6, 1.7, 1.8, 1.9], "labels": false, "ticks": true, "tickSize": -2.5, "tickColor": "black", "tickWidth": 0.8}}
      },
      "layer": [
        {"transform": [{"filter": "datum.s == 'fit'"}], "mark": {"type": "line", "strokeWidth": 1, "clip": true},
          "encoding": {"stroke": {"field": "s", "type": "nominal", "scale": {"domain": ["Z", "H", "F", "fit", "H1fit"], "range": ["#d42020", "#1c1cc8", "#22bb22", "black", "black"]}}}},
        {"transform": [{"filter": "datum.s == 'err'"}], "mark": {"type": "rule", "strokeWidth": 0.8, "color": "black", "clip": true},
          "encoding": {"y": {"field": "lo", "type": "quantitative", "title": null}, "y2": {"field": "hi"}}},
        {"transform": [{"filter": "datum.s == 'Z' || datum.s == 'H' || datum.s == 'F'"}], "mark": {"type": "point", "size": 11, "strokeWidth": 0.9, "opacity": 1},
          "encoding": {
            "stroke": {"field": "s", "type": "nominal", "scale": {"domain": ["Z", "H", "F", "fit", "H1fit"], "range": ["#d42020", "#1c1cc8", "#22bb22", "black", "black"]}},
            "fill": {"field": "s", "type": "nominal", "scale": {"domain": ["Z", "H", "F", "fit", "H1fit"], "range": ["#d42020", "transparent", "transparent", "transparent", "transparent"]}},
            "shape": {"field": "s", "type": "nominal", "scale": {"domain": ["Z", "H", "F", "fit", "H1fit"], "range": ["square", "square", "triangle-up", "stroke", "stroke"]}}
          }}
      ]
    },
    {
      "width": 75, "height": 114,
      "title": "Q²=18 GeV²",
      "data": {"name": "d"},
      "transform": [{"filter": "datum.q == 18"}],
      "encoding": {
        "x": {"field": "x", "type": "quantitative", "title": "x", "scale": {"type": "log", "domain": [1e-5, 1], "nice": false},
          "axis": {"values": [0.00001, 0.0001, 0.001, 0.01, 0.1, 1], "labelExpr": "datum.value > 0.5 ? '1' : datum.value > 0.05 ? '10⁻¹' : datum.value > 0.005 ? '' : datum.value > 0.0005 ? '10⁻³' : datum.value > 0.00005 ? '' : '10⁻⁵'", "labelOverlap": false, "labelBound": false, "labelFlush": false, "labelPadding": 4, "ticks": true, "tickSize": -3, "tickColor": "black", "tickWidth": 0.8,
            "title": "x", "titleFont": "Liberation Serif", "titleFontSize": 8, "titleFontStyle": "italic", "titleFontWeight": "bold", "titleAnchor": "end", "titlePadding": 1}},
        "y": {"field": "F2", "type": "quantitative", "title": null, "scale": {"domain": [0, 2], "nice": false},
          "axis": {"values": [0, 0.1, 0.2, 0.3, 0.4, 0.5, 0.6, 0.7, 0.8, 0.9, 1, 1.1, 1.2, 1.3, 1.4, 1.5, 1.6, 1.7, 1.8, 1.9], "labels": false, "ticks": true, "tickSize": -2.5, "tickColor": "black", "tickWidth": 0.8}}
      },
      "layer": [
        {"transform": [{"filter": "datum.s == 'fit'"}], "mark": {"type": "line", "strokeWidth": 1, "clip": true},
          "encoding": {"stroke": {"field": "s", "type": "nominal", "scale": {"domain": ["Z", "H", "F", "fit", "H1fit"], "range": ["#d42020", "#1c1cc8", "#22bb22", "black", "black"]}}}},
        {"transform": [{"filter": "datum.s == 'err'"}], "mark": {"type": "rule", "strokeWidth": 0.8, "color": "black", "clip": true},
          "encoding": {"y": {"field": "lo", "type": "quantitative", "title": null}, "y2": {"field": "hi"}}},
        {"transform": [{"filter": "datum.s == 'Z' || datum.s == 'H' || datum.s == 'F'"}], "mark": {"type": "point", "size": 11, "strokeWidth": 0.9, "opacity": 1},
          "encoding": {
            "stroke": {"field": "s", "type": "nominal", "scale": {"domain": ["Z", "H", "F", "fit", "H1fit"], "range": ["#d42020", "#1c1cc8", "#22bb22", "black", "black"]}},
            "fill": {"field": "s", "type": "nominal", "scale": {"domain": ["Z", "H", "F", "fit", "H1fit"], "range": ["#d42020", "transparent", "transparent", "transparent", "transparent"]}},
            "shape": {"field": "s", "type": "nominal", "scale": {"domain": ["Z", "H", "F", "fit", "H1fit"], "range": ["square", "square", "triangle-up", "stroke", "stroke"]}}
          }}
      ]
    },

    {"width": 75, "height": 1, "view": {"stroke": null}, "data": {"values": []}, "mark": "point"},
    {"width": 75, "height": 29, "view": {"stroke": null}, "data": {"values": []}, "mark": "point"},
    {"width": 75, "height": 1, "view": {"stroke": null}, "data": {"values": []}, "mark": "point"},

    {"width": 75, "height": 1, "view": {"stroke": null}, "data": {"values": []}, "mark": "point"},
    {
      "width": 75, "height": 27,
      "view": {"stroke": null},
      "data": {"values": [{"t": "NLO DGLAP works well for Q² ≳ 2 GeV²"}]},
      "encoding": {
        "x": {"datum": 0, "type": "quantitative", "scale": {"domain": [0, 1]}, "axis": null},
        "y": {"datum": 0, "type": "quantitative", "scale": {"domain": [0, 1]}, "axis": null}
      },
      "layer": [
        {
          "mark": {"type": "rect", "fill": null, "stroke": "#d01818", "strokeWidth": 1.5, "cornerRadius": 9},
          "encoding": {"x": {"datum": -1.547, "type": "quantitative"}, "x2": {"datum": 2.533}, "y": {"datum": 1, "type": "quantitative"}, "y2": {"datum": 0}}
        },
        {
          "mark": {"type": "text", "font": "DejaVu Sans", "fontSize": 14.5, "color": "#d01818"},
          "encoding": {"x": {"datum": 0.5, "type": "quantitative"}, "y": {"datum": 0.5, "type": "quantitative"}, "text": {"field": "t"}}
        }
      ]
    },
    {"width": 75, "height": 1, "view": {"stroke": null}, "data": {"values": []}, "mark": "point"},

    {"width": 75, "height": 1, "view": {"stroke": null}, "data": {"values": []}, "mark": "point"},
    {"width": 75, "height": 14, "view": {"stroke": null}, "data": {"values": []}, "mark": "point"},
    {"width": 75, "height": 1, "view": {"stroke": null}, "data": {"values": []}, "mark": "point"},

    {"width": 75, "height": 1, "view": {"stroke": null}, "data": {"values": []}, "mark": "point"},
    {
      "width": 75, "height": 40,
      "view": {"stroke": null},
      "data": {"values": [
        {"t": "LNS Journal Club", "k": "l1"},
        {"t": "Cornell University", "k": "l2"},
        {"t": "J.A.Crittenden, DESY", "k": "r1"},
        {"t": "1 June 2001", "k": "r2"},
        {"t": "10", "k": "c"}
      ]},
      "encoding": {
        "x": {"datum": 0.5, "type": "quantitative", "scale": {"domain": [0, 1]}, "axis": null},
        "y": {"datum": 0.5, "type": "quantitative", "scale": {"domain": [0, 1]}, "axis": null}
      },
      "layer": [
        {
          "mark": {"type": "rect", "fill": null, "stroke": "#3aa0c4", "strokeWidth": 1.5, "cornerRadius": 10},
          "encoding": {"x": {"datum": -1.867, "type": "quantitative"}, "x2": {"datum": 2.853}, "y": {"datum": 1.02, "type": "quantitative"}, "y2": {"datum": -0.5}}
        },
        {
          "mark": {"type": "rect", "fill": "white", "stroke": "#3aa0c4", "strokeWidth": 1.2, "cornerRadius": 4},
          "encoding": {"x": {"datum": 0.227, "type": "quantitative"}, "x2": {"datum": 0.56}, "y": {"datum": 0.71, "type": "quantitative"}, "y2": {"datum": -0.2}}
        },
        {
          "transform": [{"filter": "datum.k == 'l1'"}],
          "mark": {"type": "text", "font": "DejaVu Sans", "fontSize": 9.5, "color": "#2a80b4", "align": "left"},
          "encoding": {"x": {"datum": -1.693, "type": "quantitative"}, "y": {"datum": 0.73, "type": "quantitative"}, "text": {"field": "t"}}
        },
        {
          "transform": [{"filter": "datum.k == 'l2'"}],
          "mark": {"type": "text", "font": "DejaVu Sans", "fontSize": 9.5, "color": "#2a80b4", "align": "left"},
          "encoding": {"x": {"datum": -1.693, "type": "quantitative"}, "y": {"datum": 0.36, "type": "quantitative"}, "text": {"field": "t"}}
        },
        {
          "transform": [{"filter": "datum.k == 'r1'"}],
          "mark": {"type": "text", "font": "DejaVu Sans", "fontSize": 9.5, "fontStyle": "italic", "color": "#2a80b4", "align": "right"},
          "encoding": {"x": {"datum": 2.64, "type": "quantitative"}, "y": {"datum": 0.73, "type": "quantitative"}, "text": {"field": "t"}}
        },
        {
          "transform": [{"filter": "datum.k == 'r2'"}],
          "mark": {"type": "text", "font": "DejaVu Sans", "fontSize": 9.5, "fontStyle": "italic", "color": "#2a80b4", "align": "right"},
          "encoding": {"x": {"datum": 2.64, "type": "quantitative"}, "y": {"datum": 0.36, "type": "quantitative"}, "text": {"field": "t"}}
        },
        {
          "transform": [{"filter": "datum.k == 'c'"}],
          "mark": {"type": "text", "font": "DejaVu Sans", "fontSize": 8.5, "fontWeight": "bold", "color": "#2a80b4"},
          "encoding": {"x": {"datum": 0.393, "type": "quantitative"}, "y": {"datum": 0.45, "type": "quantitative"}, "text": {"field": "t"}}
        }
      ]
    },
    {"width": 75, "height": 1, "view": {"stroke": null}, "data": {"values": []}, "mark": "point"}
  ]
}
